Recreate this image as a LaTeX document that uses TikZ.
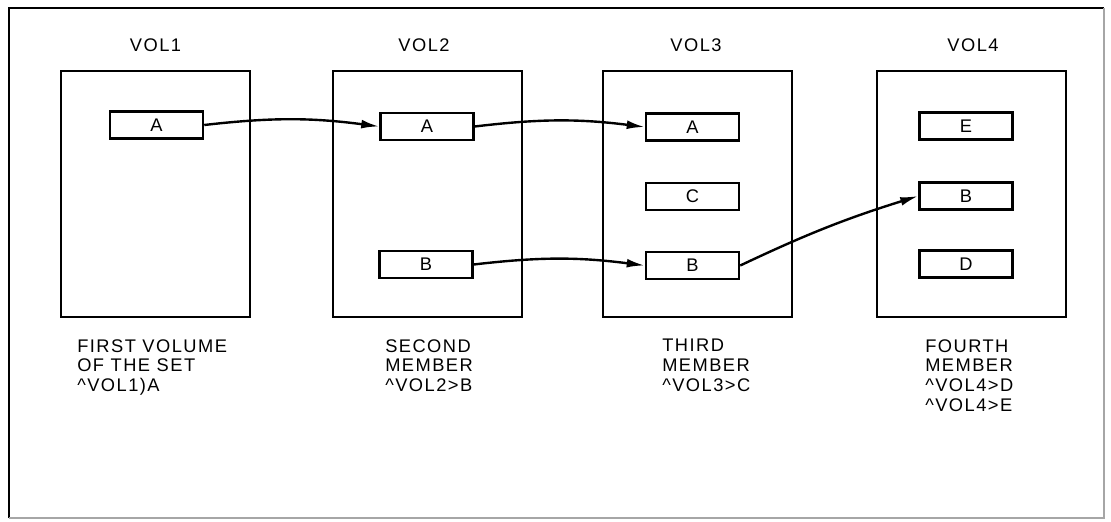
\documentclass[tikz,border=0pt]{standalone}
\usepackage{fontspec}
\setmainfont{Liberation Sans}[LetterSpace=8]
\usepackage{tikz}
\usetikzlibrary{arrows.meta}

\begin{document}
\begin{tikzpicture}[x=0.025cm, y=0.025cm,
  font=\fontsize{13}{14}\selectfont,
  vol/.style={draw, line width=1.9pt, minimum width=4.72cm, minimum height=6.15cm},
  rec/.style={draw, line width=1.9pt, minimum width=2.32cm, minimum height=0.67cm, inner sep=0pt},
  link/.style={line width=1.7pt, -{Latex[length=4.5mm,width=2.2mm]}},
  note/.style={anchor=north west, align=left, inner sep=0pt}]
\useasboundingbox (0,0) rectangle (1111,521);
\draw[line width=1.9pt] (9,3) -- (9,513) -- (1104,513);
\draw[line width=1pt, black!35] (9,3) -- (1104,3) -- (1104,513);

% Volumes
\node[vol] (vol1) at (155.5,327) {};
\node[vol] (vol2) at (427.5,327) {};
\node[vol] (vol3) at (697.5,327) {};
\node[vol] (vol4) at (971.5,327) {};
\node (lab1) at (155.5,476) {VOL1};
\node (lab2) at (424,476) {VOL2};
\node (lab3) at (696,476) {VOL3};
\node (lab4) at (973,476) {VOL4};

% Files
\node[rec] (a1) at (156.5,396) {A};
\node[rec] (a2) at (427,394.5) {A};
\node[rec] (b2) at (426,256.5) {B};
\node[rec] (a3) at (692.5,394) {A};
\node[rec] (c3) at (692.5,324.5) {C};
\node[rec] (b3) at (692.5,255.5) {B};
\node[rec] (e4) at (966,395) {E};
\node[rec] (b4) at (966,325) {B};
\node[rec] (d4) at (966,257) {D};

% Continuations
\draw[link] (a1.east) to[bend left=7] (a2.west);
\draw[link] (a2.east) to[bend left=7] (a3.west);
\draw[link] (b2.east) to[bend left=7] (b3.west);
\draw[link] (b3.east) to[bend left=4] (b4.west);

% Notes
\node[note] (txt1) at (77,182) {FIRST VOLUME\\OF THE SET\\\textasciicircum VOL1)A};
\node[note] (txt2) at (385,182) {SECOND\\MEMBER\\\textasciicircum VOL2>B};
\node[note] (txt3) at (662,182) {THIRD\\MEMBER\\\textasciicircum VOL3>C};
\node[note] (txt4) at (925,182) {FOURTH\\MEMBER\\\textasciicircum VOL4>D\\\textasciicircum VOL4>E};
\end{tikzpicture}
\end{document}
